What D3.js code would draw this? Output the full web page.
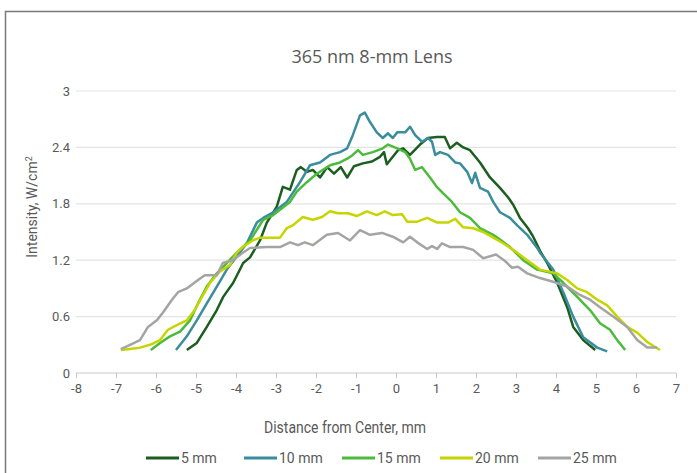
<!DOCTYPE html>
<html>
<head>
<meta charset="utf-8">
<script src="https://cdn.jsdelivr.net/npm/d3@7"></script>
<style>
  body { margin: 0; background: #fff; }
  text { font-family: "Roboto", sans-serif; fill: #595959; }
</style>
</head>
<body>
<svg width="697" height="473"></svg>
<script>
// data, [distance mm, intensity W/cm2]
var xTicks = [-8, -7, -6, -5, -4, -3, -2, -1, 0, 1, 2, 3, 4, 5, 6, 7];
var yTicks = [0, 0.6, 1.2, 1.8, 2.4, 3];
var seriesNames = ["5 mm", "10 mm", "15 mm", "20 mm", "25 mm"];
var seriesColors = ["#1b5e20", "#3a8d9c", "#4cbb3c", "#c6d500", "#a3a5a3"];

var mm5 = [[-5.23,0.245],[-4.98,0.32],[-4.73,0.49],[-4.48,0.67],[-4.32,0.81],[-4.07,0.96],[-3.82,1.17],[-3.65,1.23],
  [-3.4,1.41],[-3.23,1.6],[-2.98,1.77],[-2.83,1.98],[-2.65,1.95],[-2.48,2.16],[-2.38,2.19],[-2.23,2.14],[-2.08,2.16],
  [-1.9,2.08],[-1.72,2.19],[-1.55,2.12],[-1.38,2.19],[-1.22,2.08],[-1.05,2.2],[-0.83,2.23],[-0.6,2.25],[-0.4,2.3],
  [-0.3,2.35],[-0.23,2.22],[-0.08,2.3],[0.05,2.37],[0.18,2.39],[0.35,2.32],[0.6,2.43],[0.8,2.5],[1.02,2.51],[1.22,2.51],
  [1.35,2.39],[1.52,2.45],[1.68,2.4],[1.85,2.37],[2.1,2.24],[2.35,2.08],[2.6,1.97],[2.8,1.87],[2.93,1.79],[3.1,1.65],
  [3.3,1.54],[3.43,1.45],[3.6,1.3],[3.78,1.17],[4.03,0.96],[4.28,0.7],[4.43,0.49],[4.68,0.35],[4.98,0.245]];

var mm10 = [[-5.5,0.245],[-5.23,0.39],[-4.98,0.56],[-4.73,0.74],[-4.48,0.92],[-4.23,1.1],[-3.98,1.24],[-3.73,1.38],
  [-3.48,1.6],[-3.32,1.65],[-3.07,1.71],[-2.73,1.82],[-2.4,2.03],[-2.15,2.21],[-1.9,2.24],[-1.65,2.32],[-1.4,2.35],
  [-1.22,2.39],[-1.08,2.53],[-0.9,2.74],[-0.78,2.77],[-0.65,2.67],[-0.48,2.56],[-0.33,2.5],[-0.2,2.55],[-0.08,2.5],
  [0.03,2.56],[0.23,2.56],[0.35,2.62],[0.48,2.53],[0.65,2.46],[0.8,2.5],[0.9,2.46],[0.98,2.32],[1.1,2.35],[1.3,2.32],
  [1.48,2.24],[1.6,2.23],[1.78,2.14],[1.9,2.02],[1.98,2.13],[2.1,1.97],[2.3,1.93],[2.43,1.82],[2.6,1.71],[2.85,1.65],
  [3.03,1.57],[3.28,1.47],[3.53,1.33],[3.6,1.28],[3.93,1.1],[4.23,0.81],[4.43,0.6],[4.68,0.38],[5.03,0.27],[5.28,0.23]];

var mm15 = [[-6.13,0.245],[-5.9,0.32],[-5.65,0.39],[-5.4,0.44],[-5.15,0.56],[-4.95,0.74],[-4.73,0.92],[-4.48,1.06],
  [-4.23,1.17],[-3.98,1.28],[-3.65,1.41],[-3.32,1.63],[-3.07,1.68],[-2.65,1.82],[-2.48,1.93],[-2.23,2.03],[-1.98,2.12],
  [-1.65,2.21],[-1.4,2.24],[-1.22,2.28],[-1.08,2.32],[-0.95,2.37],[-0.83,2.32],[-0.58,2.35],[-0.33,2.39],[-0.2,2.43],
  [0.03,2.39],[0.23,2.35],[0.35,2.28],[0.48,2.16],[0.65,2.19],[0.85,2.08],[1.02,1.98],[1.18,1.91],[1.4,1.82],[1.6,1.71],
  [1.85,1.65],[2.1,1.54],[2.43,1.47],[2.6,1.42],[2.85,1.34],[3.18,1.2],[3.53,1.1],[3.93,1.06],[4.18,0.96],[4.53,0.81],
  [4.85,0.67],[5.1,0.53],[5.35,0.46],[5.53,0.35],[5.73,0.245]];

var mm20 = [[-6.88,0.245],[-6.65,0.255],[-6.4,0.27],[-6.15,0.3],[-5.9,0.35],[-5.7,0.46],[-5.48,0.51],[-5.23,0.56],
  [-5.03,0.67],[-4.85,0.81],[-4.65,0.96],[-4.4,1.08],[-4.15,1.15],[-3.98,1.28],[-3.83,1.34],[-3.58,1.41],[-3.4,1.44],
  [-2.9,1.44],[-2.73,1.54],[-2.58,1.57],[-2.33,1.66],[-2.08,1.63],[-1.85,1.66],[-1.65,1.72],[-1.45,1.7],[-1.2,1.7],
  [-0.98,1.67],[-0.73,1.72],[-0.48,1.68],[-0.28,1.72],[-0.08,1.68],[0.15,1.69],[0.28,1.61],[0.53,1.61],[0.78,1.65],
  [1.03,1.6],[1.3,1.6],[1.48,1.64],[1.68,1.55],[1.93,1.54],[2.18,1.5],[2.43,1.44],[2.68,1.38],[2.93,1.31],[3.28,1.2],
  [3.6,1.1],[4.03,1.06],[4.28,0.99],[4.53,0.9],[4.78,0.86],[5.03,0.78],[5.28,0.72],[5.53,0.6],[5.78,0.49],[6.03,0.43],
  [6.28,0.33],[6.6,0.245]];

var mm25 = [[-6.88,0.255],[-6.65,0.3],[-6.4,0.35],[-6.2,0.49],[-5.98,0.56],[-5.83,0.64],[-5.6,0.78],[-5.45,0.86],
  [-5.23,0.9],[-4.95,0.99],[-4.78,1.04],[-4.48,1.04],[-4.33,1.17],[-4.08,1.2],[-3.83,1.28],[-3.65,1.33],[-3.23,1.34],
  [-2.9,1.34],[-2.65,1.39],[-2.45,1.36],[-2.28,1.39],[-2.08,1.36],[-1.73,1.47],[-1.45,1.49],[-1.15,1.41],[-0.9,1.52],
  [-0.65,1.47],[-0.35,1.49],[-0.08,1.45],[0.18,1.39],[0.35,1.45],[0.53,1.39],[0.78,1.32],[0.9,1.35],[1.03,1.32],
  [1.15,1.38],[1.35,1.34],[1.68,1.34],[1.93,1.31],[2.18,1.22],[2.5,1.26],[2.7,1.2],[2.9,1.12],[3.05,1.13],[3.28,1.06],
  [3.6,1.01],[3.93,0.97],[4.28,0.92],[4.6,0.83],[4.85,0.78],[5.1,0.7],[5.43,0.6],[5.78,0.49],[6.03,0.35],[6.28,0.27],
  [6.53,0.27]];

var allSeries = [mm5, mm10, mm15, mm20, mm25];

var svg = d3.select("svg");

// frame
svg.append("rect")
  .attr("x", 5.5).attr("y", 11.5)
  .attr("width", 800).attr("height", 600)
  .attr("fill", "none").attr("stroke", "#7a7a7a").attr("stroke-width", 1.5);

var x = d3.scaleLinear().domain([-8, 7]).range([76, 676]);
var y = d3.scaleLinear().domain([0, 3]).range([373, 91]);

// gridlines
svg.append("g").selectAll("line")
  .data(yTicks.filter(function(d) { return d > 0; }))
  .enter().append("line")
    .attr("x1", x(-8)).attr("x2", x(7))
    .attr("y1", function(d) { return y(d); }).attr("y2", function(d) { return y(d); })
    .attr("stroke", "#e3e3e3").attr("stroke-width", 1.2);

// y axis labels
var yAxis = d3.axisLeft(y).tickValues(yTicks).tickSize(0).tickPadding(6)
  .tickFormat(function(d) { return String(d); });
var gy = svg.append("g").attr("transform", "translate(" + x(-8) + ",0)").call(yAxis);
gy.select(".domain").remove();
gy.selectAll("text").style("font-size", "13px").style("fill", "#595959");

// x axis (plain hyphen minus like the original)
var xAxis = d3.axisBottom(x).tickValues(xTicks).tickSize(5).tickPadding(6)
  .tickFormat(function(d) { return String(d); });
var gx = svg.append("g").attr("transform", "translate(0," + y(0) + ")").call(xAxis);
gx.select(".domain").attr("stroke", "#c8c8c8").attr("d", "M" + x(-8) + ",0H" + x(7));
gx.selectAll(".tick line").attr("stroke", "#c8c8c8");
gx.selectAll("text").style("font-size", "13px").style("fill", "#595959");

// lines
var line = d3.line()
  .x(function(d) { return x(d[0]); })
  .y(function(d) { return y(d[1]); });

svg.append("g").selectAll("path")
  .data(allSeries)
  .enter().append("path")
    .attr("d", line)
    .attr("fill", "none")
    .attr("stroke", function(d, i) { return seriesColors[i]; })
    .attr("stroke-width", 2.5)
    .attr("stroke-linejoin", "round");

// titles
svg.append("text").attr("x", 372).attr("y", 63).attr("text-anchor", "middle")
  .style("font-family", "'Open Sans', sans-serif")
  .style("font-size", "18px").text("365 nm 8-mm Lens");

svg.append("text").attr("text-anchor", "middle")
  .attr("transform", "translate(37,207) rotate(-90)")
  .style("font-size", "14px")
  .html("Intensity, W/cm<tspan dy='-5' font-size='9px'>2</tspan>");

svg.append("text").attr("x", 345).attr("y", 433).attr("text-anchor", "middle")
  .attr("textLength", 162).attr("lengthAdjust", "spacingAndGlyphs")
  .style("font-size", "16px").text("Distance from Center, mm");

// legend
var legend = svg.append("g").selectAll("g")
  .data(seriesNames)
  .enter().append("g")
    .attr("transform", function(d, i) { return "translate(" + (146 + i * 98) + ",458)"; });
legend.append("line")
  .attr("x1", 0).attr("x2", 33).attr("y1", 0).attr("y2", 0)
  .attr("stroke", function(d, i) { return seriesColors[i]; })
  .attr("stroke-width", 3);
legend.append("text")
  .attr("x", 35).attr("y", 5)
  .style("font-size", "14px")
  .text(function(d) { return d; });
</script>
</body>
</html>
